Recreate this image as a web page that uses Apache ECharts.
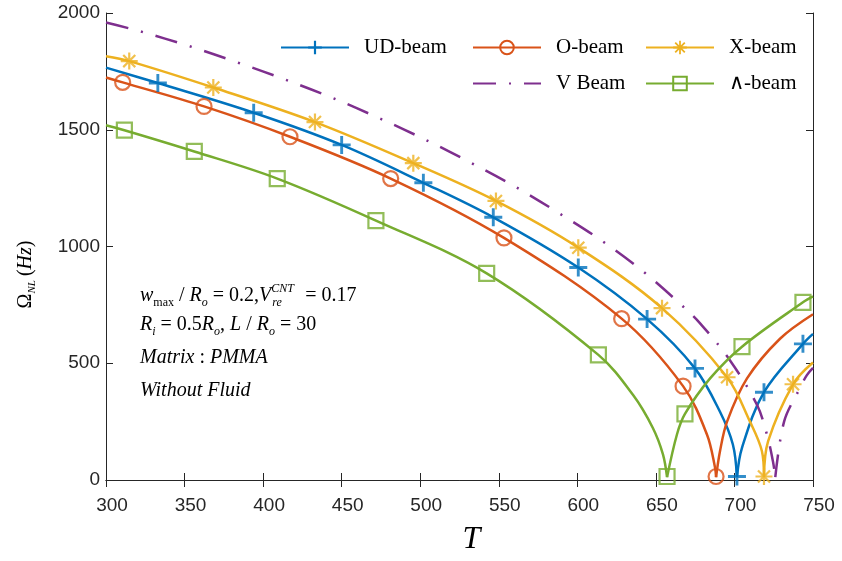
<!DOCTYPE html>
<html>
<head>
<meta charset="utf-8">
<script src="https://cdn.jsdelivr.net/npm/echarts@6/dist/echarts.min.js"></script>
<style>
  html, body { margin: 0; padding: 0; background: #fff; }
  #chart { width: 842px; height: 561px; }
</style>
</head>
<body>
<div id="chart"></div>
<script>
// axis ranges
const xMin = 300, xMax = 750, xStep = 50;
const yMin = 0, yMax = 2000, yStep = 500;

// curves: [T, Omega_NL]
const udLeft = [[300, 1766], [333, 1700], [394, 1573], [450, 1435], [502, 1273], [546.5, 1125], [600.6, 910], [644.4, 689], [674.9, 478], [690.8, 292], [699, 152], [701.6, 12]];
const udRight = [[701.6, 12], [704.8, 138], [718.8, 376], [743.6, 583], [750, 626]];
const udMarks = [[333, 1700], [394, 1573], [450, 1435], [502, 1273], [546.5, 1125], [600.6, 910], [644.4, 689], [674.9, 478], [701.6, 15], [718.8, 376], [743.6, 583]];

const oLeft = [[300, 1724], [310.6, 1703], [362.4, 1600], [417.1, 1470], [481.2, 1291], [553.3, 1037], [628.2, 691], [667.3, 402], [682.5, 195], [687.6, 55], [688.3, 12]];
const oRight = [[688.3, 12], [690.8, 123], [695.3, 250], [708, 435], [729, 605], [750, 710]];
const oMarks = [[310.6, 1703], [362.4, 1600], [417.1, 1470], [481.2, 1291], [553.3, 1037], [628.2, 691], [667.3, 402], [688.3, 15]];

const xLeft = [[300, 1815], [314.8, 1794], [368.3, 1681], [433, 1533], [495.6, 1357], [548.2, 1195], [600.6, 995], [653.9, 736], [695.3, 440], [709.9, 250], [717.5, 123], [718.8, 12]];
const xRight = [[718.8, 12], [721.4, 165], [737.3, 410], [750, 503]];
const xMarks = [[314.8, 1794], [368.3, 1681], [433, 1533], [495.6, 1357], [548.2, 1195], [600.6, 995], [653.9, 736], [695.3, 440], [718.8, 15], [737.3, 410]];

const vLeft = [[300, 1959], [322, 1921], [353, 1858], [384.2, 1787], [414.4, 1714], [444.7, 1635], [474.4, 1548], [503.7, 1456], [532.7, 1357], [561, 1254], [588.5, 1142], [615.9, 1023], [641.5, 895], [666, 751], [678, 672], [697.2, 512], [714.4, 321], [720.7, 194], [724.5, 80], [726, 12]];
const vRight = [[726, 12], [731.6, 250], [741, 385], [746, 448], [750, 480]];

const aLeft = [[300, 1519], [311.7, 1498], [356.2, 1407], [409, 1291], [471.8, 1111], [542.3, 885], [613.4, 536], [635.5, 364], [648, 224], [654.5, 110], [657.1, 12]];
const aRight = [[657.1, 12], [663.4, 195], [668.5, 283], [684.5, 435], [704.8, 571], [743.6, 761], [750, 786]];
const aMarks = [[311.7, 1498], [356.2, 1407], [409, 1291], [471.8, 1111], [542.3, 885], [613.4, 536], [657.1, 15], [668.5, 283], [704.8, 571], [743.6, 761]];

// marker shapes like matlab's + and *
const PLUS = 'path://M42,0H58V42H100V58H58V100H42V58H0V42H42Z';
function starPath() {
  let d = '';
  [0, 45, 90, 135].forEach(a => {
    const r = a * Math.PI / 180, c = Math.cos(r), s = Math.sin(r);
    const pts = [[-50, -6.5], [50, -6.5], [50, 6.5], [-50, 6.5]].map(([u, v]) => [50 + u * c - v * s, 50 + u * s + v * c]);
    d += 'M' + pts.map(p => p[0].toFixed(2) + ',' + p[1].toFixed(2)).join('L') + 'Z';
  });
  return 'path://' + d;
}
const STAR = starPath();

const beams = [
  { name: 'UD-beam', color: '#0072BD', left: udLeft, right: udRight, marks: udMarks, symbol: PLUS, size: 18 },
  { name: 'O-beam', color: '#D95319', left: oLeft, right: oRight, marks: oMarks, symbol: 'circle', size: 15, hollow: true },
  { name: 'X-beam', color: '#EDB120', left: xLeft, right: xRight, marks: xMarks, symbol: STAR, size: 17 },
  { name: 'V Beam', color: '#7E2F8E', left: vLeft, right: vRight, marks: null, symbol: null, dash: [23, 13, 2, 13] },
  { name: '\u2227-beam', color: '#77AC30', left: aLeft, right: aRight, marks: aMarks, symbol: 'rect', size: 15, hollow: true }
];

function markStyle(b) {
  if (!b.symbol) return { color: b.color, opacity: 0 };
  if (b.hollow) return { color: 'rgba(255,255,255,0)', borderColor: b.color, borderWidth: 2.2 };
  return { color: b.color };
}

let series = [];
beams.forEach(b => {
  [b.left, b.right].forEach(part => {
    series.push({
      name: b.name,
      type: 'line',
      data: part,
      smooth: 0.35,
      showSymbol: false,
      symbol: b.symbol || 'circle',
      symbolSize: b.size || 10,
      lineStyle: { color: b.color, width: 2.5, type: b.dash || 'solid' },
      itemStyle: markStyle(b),
      emphasis: { disabled: true },
      z: 2
    });
  });
  if (b.marks) {
    series.push({
      name: b.name,
      type: 'scatter',
      data: b.marks,
      symbol: b.symbol,
      symbolSize: b.size,
      itemStyle: markStyle(b),
      clip: false,
      silent: true,
      z: 3
    });
  }
});

const axisColor = '#262626';
const numFont = 'Liberation Sans';

const legendBase = {
  orient: 'horizontal', itemWidth: 68, itemHeight: 17, itemGap: 0, padding: 0, selectedMode: false,
  textStyle: { fontFamily: 'Liberation Serif', fontSize: 21, color: '#000', padding: [0, 0, 0, 10] }
};

const mainText = { fontFamily: 'Liberation Serif', fontSize: 20, color: '#000', lineHeight: 26 };
const italic = Object.assign({}, mainText, { fontStyle: 'italic' });
const sub = { fontFamily: 'Liberation Serif', fontSize: 12, color: '#000', lineHeight: 14, verticalAlign: 'bottom' };
const isub = Object.assign({}, sub, { fontStyle: 'italic' });
const sup = { fontFamily: 'Liberation Serif', fontSize: 12, color: '#000', lineHeight: 14, verticalAlign: 'top', fontStyle: 'italic', width: 1 };
const richNote = { n: mainText, i: italic, sub: sub, isub: isub, sup: sup, resub: Object.assign({}, isub, { width: 33 }) };

const chart = echarts.init(document.getElementById('chart'));
chart.setOption({
  animation: false,
  backgroundColor: '#fff',
  grid: { left: 106, right: 29, top: 13, bottom: 75, containLabel: false },
  xAxis: [{
    type: 'value', min: xMin, max: xMax, interval: xStep,
    name: 'T', nameLocation: 'middle', nameGap: 44,
    nameTextStyle: { fontFamily: 'Liberation Serif', fontStyle: 'italic', fontSize: 32, color: '#000', padding: [0, 0, 0, 24] },
    axisLine: { lineStyle: { color: axisColor, width: 1 } },
    axisTick: { inside: true, length: 7, lineStyle: { color: axisColor } },
    axisLabel: { fontFamily: numFont, fontSize: 19, color: axisColor, margin: 16, padding: [0, 0, 0, 12] },
    splitLine: { show: false }
  }, {
    type: 'value', min: xMin, max: xMax, interval: xStep, position: 'top',
    axisLine: { lineStyle: { color: axisColor, width: 1 } },
    axisTick: { inside: true, length: 7, lineStyle: { color: axisColor } },
    axisLabel: { show: false },
    splitLine: { show: false }
  }],
  yAxis: [{
    type: 'value', min: yMin, max: yMax, interval: yStep,
    name: '\u03A9{sub|NL}{n|(}{i|Hz}{n|)}', nameLocation: 'middle', nameGap: 68, nameRotate: 90,
    nameTextStyle: {
      fontFamily: 'Liberation Serif', fontSize: 20, color: '#000', lineHeight: 24, padding: [0, 56, 0, 0],
      rich: {
        sub: { fontFamily: 'Liberation Serif', fontStyle: 'italic', fontSize: 11, lineHeight: 12, verticalAlign: 'bottom', color: '#000', padding: [0, 4, 0, 0] },
        n: { fontFamily: 'Liberation Serif', fontSize: 20, lineHeight: 24, color: '#000' },
        i: { fontFamily: 'Liberation Serif', fontStyle: 'italic', fontSize: 20, lineHeight: 24, color: '#000' }
      }
    },
    axisLine: { show: true, lineStyle: { color: axisColor, width: 1 } },
    axisTick: { show: true, inside: true, length: 7, lineStyle: { color: axisColor } },
    axisLabel: { fontFamily: numFont, fontSize: 19, color: axisColor, margin: 6, formatter: v => String(v) },
    splitLine: { show: false }
  }, {
    type: 'value', min: yMin, max: yMax, interval: yStep, position: 'right',
    axisLine: { show: true, lineStyle: { color: axisColor, width: 1 } },
    axisTick: { show: true, inside: true, length: 7, lineStyle: { color: axisColor } },
    axisLabel: { show: false },
    splitLine: { show: false }
  }],
  legend: [
    Object.assign({}, legendBase, { data: ['UD-beam'], left: 280, top: 37 }),
    Object.assign({}, legendBase, { data: ['O-beam'], left: 472, top: 37 }),
    Object.assign({}, legendBase, { data: ['X-beam'], left: 645, top: 37 }),
    Object.assign({}, legendBase, { data: ['V Beam'], left: 472, top: 73 }),
    Object.assign({}, legendBase, { data: ['\u2227-beam'], left: 645, top: 73 })
  ],
  graphic: [
    { type: 'text', left: 140, top: 283, silent: true,
      style: { text: '{i|w}{sub|max}{n| / }{i|R}{isub|o}{n| = 0.2,}{i|V}{sup|CNT}{resub|re}{n|= 0.17}', rich: richNote } },
    { type: 'text', left: 140, top: 315, silent: true,
      style: { text: '{i|R}{isub|i}{n| = 0.5}{i|R}{isub|o}{n|, }{i|L}{n| / }{i|R}{isub|o}{n| = 30}', rich: richNote } },
    { type: 'text', left: 140, top: 348, silent: true,
      style: { text: '{i|Matrix}{n| : }{i|PMMA}', rich: richNote } },
    { type: 'text', left: 140, top: 381, silent: true,
      style: { text: '{i|Without Fluid}', rich: richNote } }
  ],
  series: series
});
</script>
</body>
</html>
